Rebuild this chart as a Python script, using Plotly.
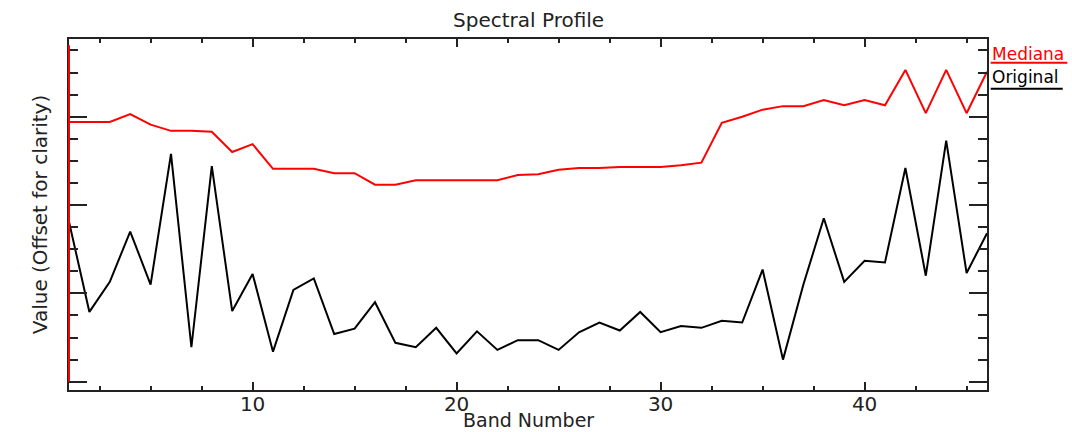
import plotly.graph_objects as go

bands = list(range(1, 47))
original = [18.1, 7.9, 11.3, 17.0, 11.0, 25.8, 3.9, 24.4, 8.0, 12.2,
            3.4, 10.4, 11.7, 5.4, 6.0, 9.0, 4.4, 3.9, 6.1, 3.2,
            5.7, 3.6, 4.7, 4.7, 3.6, 5.6, 6.7, 5.8, 7.9, 5.6,
            6.3, 6.1, 6.9, 6.7, 12.7, 2.5, 11.0, 18.5, 11.3, 13.7,
            13.5, 24.2, 12.0, 27.3, 12.3, 16.8]
mediana = [29.4, 29.4, 29.4, 30.3, 29.1, 28.4, 28.4, 28.3, 26.0, 26.9,
           24.1, 24.1, 24.1, 23.6, 23.6, 22.3, 22.3, 22.8, 22.8, 22.8,
           22.8, 22.8, 23.4, 23.5, 24.0, 24.2, 24.2, 24.3, 24.3, 24.3,
           24.5, 24.8, 29.3, 30.0, 30.8, 31.2, 31.2, 31.9, 31.3, 31.9,
           31.3, 35.3, 30.4, 35.3, 30.4, 35.1]
legend_names = ["Mediana", "Original"]
legend_colors = ["#ff0000", "#000000"]

FONT = "DejaVu Sans"
TXT = "#222222"

fig = go.Figure()
fig.add_trace(go.Scatter(x=bands, y=original, mode="lines",
                         line=dict(color="black", width=2), name="Original",
                         showlegend=False))
fig.add_trace(go.Scatter(x=bands, y=mediana, mode="lines",
                         line=dict(color="#ff0000", width=2), name="Mediana",
                         showlegend=False))

axis_common = dict(showgrid=False, zeroline=False, showline=True,
                   linecolor="#222222", linewidth=2, mirror="ticks",
                   ticks="inside", tickcolor="#222222", tickwidth=2,
                   automargin=False)

fig.update_xaxes(range=[1, 46], tick0=0, dtick=10, ticklen=8,
                 tickfont=dict(family=FONT, size=20, color=TXT),
                 ticklabelstandoff=-5,
                 minor=dict(dtick=2.5, tick0=0, ticks="inside", ticklen=4,
                            tickcolor="#222222", tickwidth=2),
                 **axis_common)
fig.update_yaxes(range=[-0.94, 38.8], tick0=0, dtick=10, ticklen=18,
                 showticklabels=False,
                 minor=dict(dtick=2.5, tick0=0, ticks="inside", ticklen=9,
                            tickcolor="#222222", tickwidth=2),
                 title=dict(text="Value (Offset for clarity)", standoff=14,
                            font=dict(family=FONT, size=20, color=TXT)),
                 **axis_common)

# red vertical segment along the left axis
fig.add_shape(type="line", xref="paper", yref="y", x0=0, x1=0, y0=0, y1=38.1,
              line=dict(color="#ff0000", width=2), layer="above")

# title
fig.add_annotation(text="Spectral Profile", xref="paper", yref="paper",
                   x=0.5, y=1.054, showarrow=False, yanchor="middle",
                   font=dict(family=FONT, size=20, color=TXT))
# x axis title
fig.add_annotation(text="Band Number", xref="paper", yref="paper",
                   x=0.5, y=-0.085, showarrow=False, yanchor="middle",
                   font=dict(family=FONT, size=19, color=TXT))

# legend with underlines
for name, col, yy in zip(legend_names, legend_colors, [0.957, 0.892]):
    fig.add_annotation(text=name, xref="paper", yref="paper", x=1.003, y=yy,
                       xanchor="left", yanchor="middle", showarrow=False,
                       font=dict(family=FONT, size=17, color=col))
for col, yy, x1 in zip(legend_colors, [0.932, 0.858], [1.0875, 1.0825]):
    fig.add_shape(type="line", xref="paper", yref="paper", x0=1.004, x1=x1,
                  y0=yy, y1=yy, line=dict(color=col, width=2))

fig.update_layout(width=1072, height=432, autosize=False,
                  margin=dict(l=69, r=85, t=39, b=42),
                  paper_bgcolor="white", plot_bgcolor="white")

fig.write_html("out.html")
